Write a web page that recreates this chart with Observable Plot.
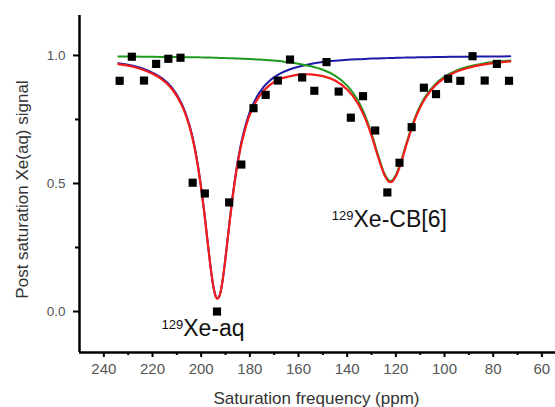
<!DOCTYPE html>
<html><head><meta charset="utf-8">
<script src="https://cdn.jsdelivr.net/npm/d3@7"></script>
<script src="https://cdn.jsdelivr.net/npm/@observablehq/plot@0.6"></script>
<style>
body{margin:0;background:#fff}
g[aria-label="axis-title"] text{letter-spacing:0.5px}
</style></head><body><div id="chart"></div>
<script>
// Measured saturation points
const pointFreq = [233.5, 228.5, 223.5, 218.5, 213.5, 208.5, 203.5, 198.5, 193.5, 188.5, 183.5, 178.5, 173.5, 168.5, 163.5, 158.5, 153.5, 148.5, 143.5, 138.5, 133.5, 128.5, 123.5, 118.5, 113.5, 108.5, 103.5, 98.5, 93.5, 88.5, 83.5, 78.5, 73.5];
const pointSignal = [0.901, 0.995, 0.902, 0.967, 0.987, 0.991, 0.503, 0.461, 0.0, 0.426, 0.574, 0.794, 0.846, 0.902, 0.984, 0.914, 0.862, 0.974, 0.859, 0.757, 0.841, 0.707, 0.465, 0.581, 0.720, 0.874, 0.849, 0.909, 0.901, 0.997, 0.902, 0.967, 0.901];

// Fitted curves
const fitFreq = [234, 228, 222, 216, 212, 208, 205, 203, 201, 199, 197.5, 196, 195, 194, 193.3, 192.5, 191.5, 190.5, 189, 187, 185, 183, 180, 176, 172, 168, 164, 160, 155, 150, 145, 140, 136, 133, 130, 128, 126, 124.5, 123, 122.2, 121.3, 120, 118, 116, 114, 111, 108, 104, 100, 95, 90, 85, 80, 73];
const fitXeAq = [0.970, 0.960, 0.942, 0.911, 0.874, 0.812, 0.734, 0.657, 0.550, 0.410, 0.286, 0.164, 0.099, 0.059, 0.050, 0.061, 0.104, 0.172, 0.295, 0.456, 0.586, 0.682, 0.780, 0.856, 0.900, 0.927, 0.944, 0.956, 0.967, 0.974, 0.979, 0.983, 0.985, 0.986, 0.988, 0.988, 0.989, 0.989, 0.990, 0.990, 0.990, 0.991, 0.991, 0.992, 0.992, 0.9925, 0.993, 0.994, 0.994, 0.995, 0.995, 0.996, 0.996, 0.9965];
const fitXeCB = [0.996, 0.996, 0.995, 0.994, 0.994, 0.993, 0.993, 0.993, 0.993, 0.992, 0.992, 0.992, 0.991, 0.991, 0.991, 0.990, 0.990, 0.990, 0.989, 0.989, 0.988, 0.987, 0.986, 0.984, 0.981, 0.978, 0.973, 0.968, 0.958, 0.944, 0.921, 0.882, 0.831, 0.774, 0.695, 0.633, 0.572, 0.535, 0.513, 0.510, 0.514, 0.533, 0.583, 0.646, 0.707, 0.783, 0.838, 0.886, 0.917, 0.942, 0.957, 0.967, 0.974, 0.980];
const fitTotal = [0.966, 0.956, 0.937, 0.906, 0.869, 0.806, 0.729, 0.652, 0.546, 0.407, 0.284, 0.163, 0.098, 0.058, 0.050, 0.060, 0.103, 0.170, 0.292, 0.451, 0.579, 0.673, 0.769, 0.842, 0.883, 0.907, 0.918, 0.925, 0.926, 0.919, 0.902, 0.867, 0.819, 0.763, 0.687, 0.625, 0.566, 0.529, 0.508, 0.505, 0.509, 0.528, 0.577, 0.641, 0.701, 0.777, 0.832, 0.881, 0.912, 0.937, 0.952, 0.963, 0.970, 0.977];

// Axes
const xTicks = [240, 220, 200, 180, 160, 140, 120, 100, 80, 60];
const xMinorTicks = [230, 210, 190, 170, 150, 130, 110, 90, 70];
const yTicks = [0, 0.5, 1.0];
const yMinorTicks = [0.25, 0.75];
const xTitle = "Saturation frequency (ppm)";
const yTitle = "Post saturation Xe(aq) signal";

// Annotations
const annotationMain = ["Xe-aq", "Xe-CB[6]"];
const annotationIsotope = ["129", "129"];
const annotationFreq = [207.4, 137.4];
const annotationSignal = [-0.094, 0.329];

const points = pointFreq.map((f, i) => ({freq: f, signal: pointSignal[i]}));
const fits = fitFreq.map((f, i) => ({freq: f, aq: fitXeAq[i], cb: fitXeCB[i], total: fitTotal[i]}));
const notes = annotationMain.map((t, i) => ({text: t, iso: annotationIsotope[i], freq: annotationFreq[i], signal: annotationSignal[i]}));

const chart = Plot.plot({
  width: 555, height: 407,
  marginLeft: 79, marginRight: 0, marginTop: 15, marginBottom: 55,
  style: {fontFamily: "'Liberation Sans', Arial, sans-serif", background: "#fff", color: "#000", overflow: "visible"},
  x: {domain: [250, 54.4]},
  y: {domain: [-0.16, 1.156]},
  marks: [
    Plot.axisX({ticks: xTicks, tickSize: 5, tickPadding: 6, fontSize: 15, stroke: "#000", fill: "#555", strokeWidth: 2, label: null, tickFormat: d => String(d)}),
    Plot.axisX({ticks: xMinorTicks, tickSize: 3, stroke: "#000", strokeWidth: 2, label: null, tickFormat: () => ""}),
    Plot.axisY({ticks: yTicks, tickSize: 6, tickPadding: 8, fontSize: 13.5, stroke: "#000", fill: "#555", strokeWidth: 2, label: null, tickFormat: d3.format(".1f")}),
    Plot.axisY({ticks: yMinorTicks, tickSize: 4, stroke: "#000", strokeWidth: 2, label: null, tickFormat: () => ""}),
    Plot.ruleX([250], {stroke: "#000", strokeWidth: 2.5}),
    Plot.ruleY([-0.16], {stroke: "#000", strokeWidth: 2.5}),
    Plot.line(fits, {x: "freq", y: "aq", stroke: "#1c1ca8", strokeWidth: 2, curve: "catmull-rom"}),
    Plot.line(fits, {x: "freq", y: "cb", stroke: "#1f9a1f", strokeWidth: 2, curve: "catmull-rom"}),
    Plot.line(fits, {x: "freq", y: "total", stroke: "#f51c1c", strokeWidth: 2.2, curve: "catmull-rom"}),
    Plot.dot(points, {x: "freq", y: "signal", symbol: "square", r: 4.6, fill: "#000"}),
    Plot.text(notes, {x: "freq", y: "signal", text: "text", textAnchor: "start", lineAnchor: "bottom", fontSize: 23, fill: "#111"}),
    Plot.text(notes, {x: "freq", y: "signal", text: "iso", textAnchor: "end", lineAnchor: "bottom", fontSize: 13, dy: -7, fill: "#111"}),
    Plot.text([xTitle], {frameAnchor: "bottom", dx: -1, dy: 51, lineAnchor: "bottom", fontSize: 17, fill: "#333", ariaLabel: "axis-title"}),
    Plot.text([yTitle], {frameAnchor: "left", rotate: -90, dx: -51.5, dy: 5.5, lineAnchor: "bottom", textAnchor: "middle", fontSize: 17, fill: "#333", ariaLabel: "axis-title"})
  ]
});
document.getElementById("chart").appendChild(chart);
</script></body></html>
